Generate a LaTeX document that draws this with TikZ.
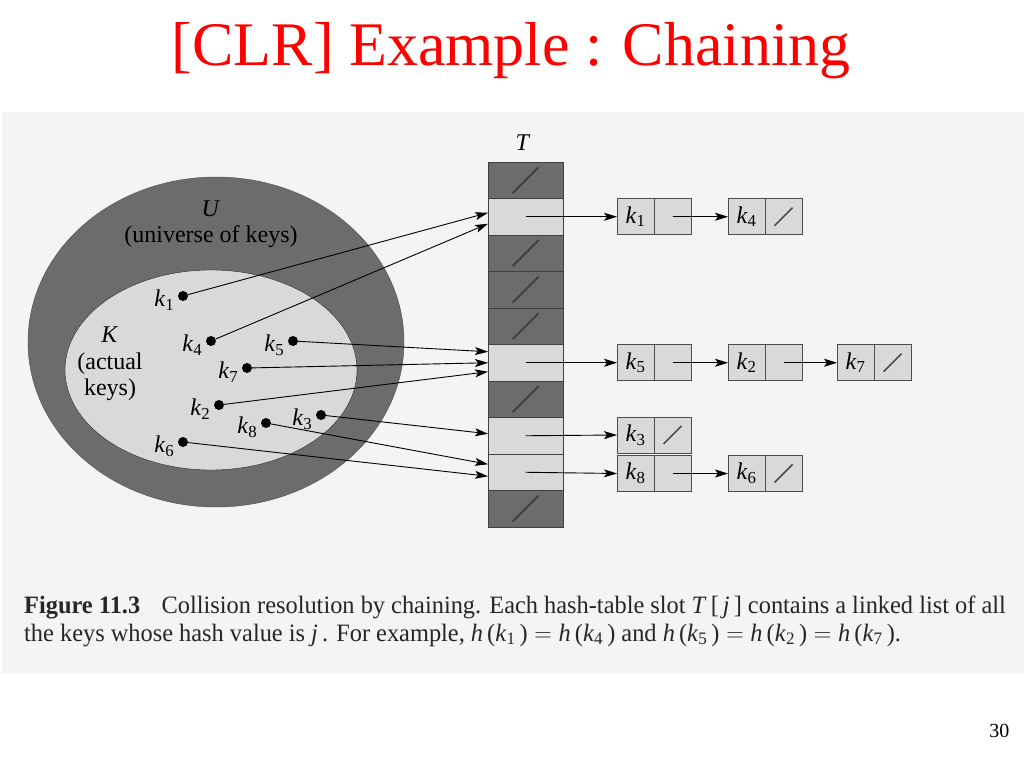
\documentclass[tikz,border=0pt]{standalone}
\usepackage{fontspec}
\setmainfont{Liberation Serif}
\usetikzlibrary{arrows.meta,positioning}
\definecolor{panelgray}{RGB}{244,244,244}
\definecolor{darkcell}{RGB}{108,108,108}
\definecolor{lightcell}{RGB}{217,217,217}
\definecolor{titlered}{RGB}{255,0,0}
\newcommand{\keyk}[1]{\textit{k}\textsubscript{#1}}
\newcommand{\hk}[1]{\textit{h}\,(\keyk{#1}\,)}
\newcommand{\eqsign}{\ensuremath{\;=\;}}

\begin{document}
\begin{tikzpicture}[x=1pt,y=-1pt,
    every node/.style={font=\fontsize{24}{26.5}\selectfont},
    keydot/.style={circle,fill=black,inner sep=0pt,minimum size=10pt},
    slot/.style={draw=black!75,line width=0.8pt,minimum width=75pt,minimum height=36.5pt,inner sep=0pt,outer sep=0pt},
    fullslot/.style={slot,fill=lightcell},
    nilslot/.style={slot,fill=darkcell,path picture={\draw[line width=2pt] ([shift={(-13pt,-13pt)}]path picture bounding box.center) -- ([shift={(13pt,13pt)}]path picture bounding box.center);}},
    cell/.style={draw=black!70,line width=0.8pt,fill=lightcell,minimum width=37pt,minimum height=36pt,inner sep=0pt,outer sep=0pt},
    nilcell/.style={cell,path picture={\draw[line width=1.7pt] ([shift={(-9pt,-9pt)}]path picture bounding box.center) -- ([shift={(9pt,9pt)}]path picture bounding box.center);}},
    ptr/.style={-{Stealth[length=13pt,width=8pt,inset=3pt]},line width=0.9pt}]
    \useasboundingbox (0,0) rectangle (1024,768);
    \fill[white] (0,0) rectangle (1024,768);
    \fill[panelgray] (2,112) rectangle (1024,673);
    % title and page number
    \node[text=titlered,font=\fontsize{62}{70}\selectfont,anchor=base] (title) at (511,66) {[CLR] Example : Chaining};
    \node[anchor=base east,font=\fontsize{20}{24}\selectfont] (pnum) at (1013,737) {30};
    % universe U and actual keys K
    \filldraw[fill=darkcell,draw=black!70] (216,342) ellipse [x radius=188, y radius=165];
    \filldraw[fill=lightcell,draw=black!85] (211,370) ellipse [x radius=146, y radius=100];
    \node[align=center] (ulab) at (211,224) {\textit{U}\\(universe of keys)};
    \node[align=center] (klab) at (110,364) {\textit{K}\\(actual\\keys)};
    % table T
    \foreach \kind [count=\i from 0] in {nilslot,fullslot,nilslot,nilslot,nilslot,fullslot,nilslot,fullslot,fullslot,nilslot}
        \node[\kind] (t\i) at (525.5,{180.25+36.5*\i}) {};
    \node (tlab) at (523,143) {\textit{T}};
    % chains
    \node[cell] (a1) at (635.5,216.75) {\keyk{1}};
    \node[cell,right=0pt of a1] (a1n) {};
    \node[cell] (a2) at (746.5,216.75) {\keyk{4}};
    \node[nilcell,right=0pt of a2] (a2n) {};
    \node[cell] (b1) at (635.5,362.75) {\keyk{5}};
    \node[cell,right=0pt of b1] (b1n) {};
    \node[cell] (b2) at (746.5,362.75) {\keyk{2}};
    \node[cell,right=0pt of b2] (b2n) {};
    \node[cell] (b3) at (855.5,362.75) {\keyk{7}};
    \node[nilcell,right=0pt of b3] (b3n) {};
    \node[cell] (c1) at (635.5,435) {\keyk{3}};
    \node[nilcell,right=0pt of c1] (c1n) {};
    \node[cell] (d1) at (635.5,473.5) {\keyk{8}};
    \node[cell,right=0pt of d1] (d1n) {};
    \node[cell] (d2) at (746.5,473.5) {\keyk{6}};
    \node[nilcell,right=0pt of d2] (d2n) {};
    \draw[ptr] (t1.center) -- (a1.west);
    \draw[ptr] (a1n.center) -- (a2.west);
    \draw[ptr] (t5.center) -- (b1.west);
    \draw[ptr] (b1n.center) -- (b2.west);
    \draw[ptr] (b2n.center) -- (b3.west);
    \draw[ptr] (t7.center) -- (c1.west);
    \draw[ptr] (t8.center) -- (d1.west);
    \draw[ptr] (d1n.center) -- (d2.west);
    % keys
    \node[keydot,label={[yshift=-4pt]left:\keyk{1}}] (k1) at (183,296) {};
    \node[keydot,label={[yshift=-4pt]left:\keyk{4}}] (k4) at (211,341) {};
    \node[keydot,label={[yshift=-4pt]left:\keyk{5}}] (k5) at (293,341) {};
    \node[keydot,label={[yshift=-4pt]left:\keyk{7}}] (k7) at (247,368) {};
    \node[keydot,label={[yshift=-4pt]left:\keyk{2}}] (k2) at (219,405) {};
    \node[keydot,label={[yshift=-4pt]left:\keyk{3}}] (k3) at (321,415) {};
    \node[keydot,label={[yshift=-4pt]left:\keyk{8}}] (k8) at (266,423) {};
    \node[keydot,label={[yshift=-4pt]left:\keyk{6}}] (k6) at (183,442) {};
    \draw[ptr] (k1) -- ([yshift=4pt]t1.west);
    \draw[ptr] (k4) -- ([yshift=-7pt]t1.west);
    \draw[ptr] (k5) -- ([yshift=11pt]t5.west);
    \draw[ptr] (k7) -- (t5.west);
    \draw[ptr] (k2) -- ([yshift=-9pt]t5.west);
    \draw[ptr] (k3) -- ([yshift=2pt]t7.west);
    \draw[ptr] (k8) -- ([yshift=8pt]t8.west);
    \draw[ptr] (k6) -- ([yshift=-4pt]t8.west);
    % caption
    \node[anchor=base west,inner sep=0pt,text=black!85,font=\fontsize{25}{28}\selectfont] (cap1) at (24,613) {\scalebox{0.975}[1]{\textbf{Figure 11.3}\hspace{22pt}Collision resolution by chaining. Each hash-table slot \textit{T}\,[\,\textit{j}\,] contains a linked list of all}};
    \node[anchor=base west,inner sep=0pt,text=black!85,font=\fontsize{25}{28}\selectfont] (cap2) at (24,641) {\scalebox{0.975}[1]{the keys whose hash value is \textit{j}\,. For example, \hk{1}\eqsign\hk{4} and \hk{5}\eqsign\hk{2}\eqsign\hk{7}.}};
\end{tikzpicture}
\end{document}
